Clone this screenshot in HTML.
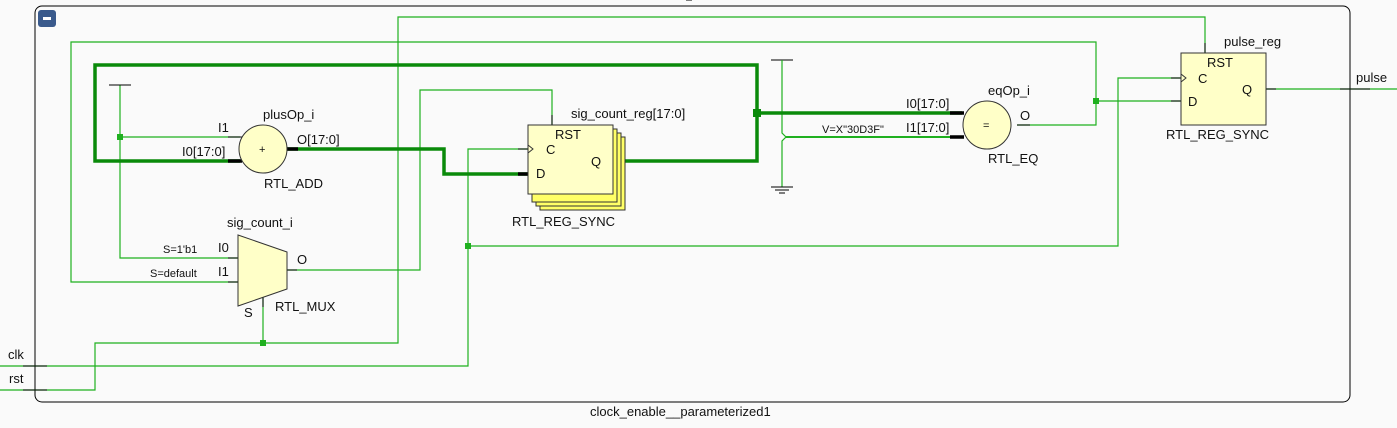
<!DOCTYPE html>
<html><head><meta charset="utf-8"><style>
html,body{margin:0;padding:0;background:#fafafa;}
svg{display:block;}
text{font-family:"Liberation Sans",sans-serif;font-size:13px;fill:#111;}
.s{font-size:11px;}
</style></head><body>
<svg width="1397" height="428" viewBox="0 0 1397 428">
<rect x="0" y="0" width="1397" height="428" fill="#fafafa"/>
<rect x="35" y="6" width="1315" height="396" rx="7" fill="none" stroke="#000" stroke-width="1"/>
<rect x="38" y="10" width="18" height="17" rx="3" fill="#3a5a8c"/>
<rect x="43" y="17" width="8" height="3" fill="#fff"/>
<line x1="686" y1="0" x2="692" y2="0" stroke="#000"/>
<g fill="none" stroke="#1fb01f" stroke-width="1.2">
<!-- rst -->
<polyline points="0,390 95,390 95,343 398,343 398,17 1205,17 1205,53"/>
<line x1="263" y1="343" x2="263" y2="297"/>
<!-- feedback mux I1 / eq out -->
<polyline points="238,282 71,282 71,42 1096,42 1096,125 1017,125"/>
<line x1="1096" y1="101" x2="1181" y2="101"/>
<!-- clk -->
<polyline points="0,366 468,366 468,246 1118,246 1118,78 1181,78"/>
<polyline points="468,246 468,149 528,149"/>
<!-- mux O to RST -->
<polyline points="287,270 420,270 420,90 552,90 552,125"/>
<!-- const left -->
<polyline points="120,85 120,258 238,258"/>
<line x1="120" y1="137" x2="240" y2="137"/>
<line x1="1266" y1="89" x2="1397" y2="89"/>
</g>
<!-- const lines black -->
<line x1="109" y1="85" x2="131" y2="85" stroke="#000"/>
<line x1="771" y1="60" x2="793" y2="60" stroke="#000"/>
<polyline points="782,60 782,133 786,137 782,141 782,187" fill="none" stroke="#1fb01f" stroke-width="1.2"/>
<line x1="771" y1="187" x2="793" y2="187" stroke="#000"/>
<line x1="775" y1="190" x2="789" y2="190" stroke="#000"/>
<line x1="779" y1="193" x2="785" y2="193" stroke="#000"/>
<line x1="786" y1="137" x2="962" y2="137" stroke="#1fb01f" stroke-width="2"/>
<!-- thick buses -->
<g fill="none" stroke="#0a8a0a" stroke-width="3.5">
<polyline points="240,161 95,161 95,65 757,65 757,161 615,161"/>
<line x1="757" y1="113" x2="962" y2="113"/>
<polyline points="287,149 444,149 444,174 528,174"/>
</g>
<!-- junctions -->
<g fill="#1fb01f">
<rect x="117" y="134" width="6" height="6"/>
<rect x="260" y="340" width="6" height="6"/>
<rect x="465" y="243" width="6" height="6"/>
<rect x="1093" y="98" width="6" height="6"/>
</g>
<rect x="753" y="109" width="8" height="8" fill="#0a8a0a"/>
<!-- black stubs -->
<g stroke="#000" stroke-width="1">
<line x1="23" y1="366" x2="47" y2="366"/><line x1="23" y1="390" x2="47" y2="390"/>
<line x1="228" y1="137" x2="242" y2="137"/>
<line x1="228" y1="258" x2="238" y2="258"/><line x1="228" y1="282" x2="238" y2="282"/>
<line x1="287" y1="270" x2="297" y2="270"/>
<line x1="263" y1="297" x2="263" y2="307"/>
<line x1="552" y1="115" x2="552" y2="125"/>
<line x1="518" y1="149" x2="528" y2="149"/>
<line x1="1017" y1="125" x2="1030" y2="125"/>
<line x1="1205" y1="43" x2="1205" y2="53"/>
<line x1="1171" y1="78" x2="1181" y2="78"/><line x1="1171" y1="101" x2="1181" y2="101"/>
<line x1="1266" y1="89" x2="1276" y2="89"/>
<line x1="1340" y1="89" x2="1370" y2="89"/>
</g>
<g stroke="#000" stroke-width="3.5">
<line x1="228" y1="161" x2="242" y2="161"/>
<line x1="287" y1="149" x2="298" y2="149"/>
<line x1="518" y1="174" x2="528" y2="174"/>
<line x1="613" y1="161" x2="624" y2="161"/>
<line x1="950" y1="113" x2="964" y2="113"/><line x1="950" y1="137" x2="964" y2="137"/>
</g>
<!-- adder -->
<ellipse cx="263" cy="149" rx="24" ry="24" fill="#ffffc8" stroke="#333"/>
<text x="259" y="153" class="s">+</text>
<text x="263" y="119">plusOp_i</text>
<text x="218" y="132">I1</text>
<text x="182" y="156">I0[17:0]</text>
<text x="297" y="144">O[17:0]</text>
<text x="264" y="188">RTL_ADD</text>
<!-- mux -->
<polygon points="238,235 287,252 287,289 238,306" fill="#ffffc8" stroke="#333"/>
<text x="227" y="227">sig_count_i</text>
<text x="163" y="253" class="s">S=1'b1</text>
<text x="218" y="252">I0</text>
<text x="150" y="277" class="s">S=default</text>
<text x="218" y="276">I1</text>
<text x="297" y="264">O</text>
<text x="244" y="317">S</text>
<text x="275" y="311">RTL_MUX</text>
<!-- reg stack -->
<g stroke="#333" stroke-width="1">
<rect x="540" y="137" width="85" height="73" fill="#ffff66"/>
<rect x="536" y="133" width="85" height="73" fill="#ffff66"/>
<rect x="532" y="129" width="85" height="73" fill="#ffff66"/>
<rect x="528" y="125" width="85" height="69" fill="#ffffc8"/>
</g>
<polyline points="528,145 533,149 528,153" fill="none" stroke="#333"/>
<text x="555" y="139">RST</text>
<text x="546" y="154">C</text>
<text x="536" y="178">D</text>
<text x="591" y="166">Q</text>
<text x="571" y="118">sig_count_reg[17:0]</text>
<text x="512" y="226">RTL_REG_SYNC</text>
<!-- eq -->
<ellipse cx="987" cy="125" rx="24" ry="24" fill="#ffffc8" stroke="#333"/>
<text x="983" y="129" class="s">=</text>
<text x="988" y="95">eqOp_i</text>
<text x="906" y="108">I0[17:0]</text>
<text x="906" y="132">I1[17:0]</text>
<text x="822" y="133" class="s">V=X"30D3F"</text>
<text x="1020" y="120">O</text>
<text x="988" y="163">RTL_EQ</text>
<!-- pulse reg -->
<rect x="1181" y="53" width="85" height="72" fill="#ffffc8" stroke="#333"/>
<polyline points="1181,74 1186,78 1181,82" fill="none" stroke="#333"/>
<text x="1207" y="67">RST</text>
<text x="1198" y="83">C</text>
<text x="1188" y="106">D</text>
<text x="1242" y="94">Q</text>
<text x="1224" y="46">pulse_reg</text>
<text x="1166" y="139">RTL_REG_SYNC</text>
<text x="1356" y="82">pulse</text>
<text x="8" y="359">clk</text>
<text x="9" y="383">rst</text>
<text x="590" y="416">clock_enable__parameterized1</text>
</svg>
</body></html>
